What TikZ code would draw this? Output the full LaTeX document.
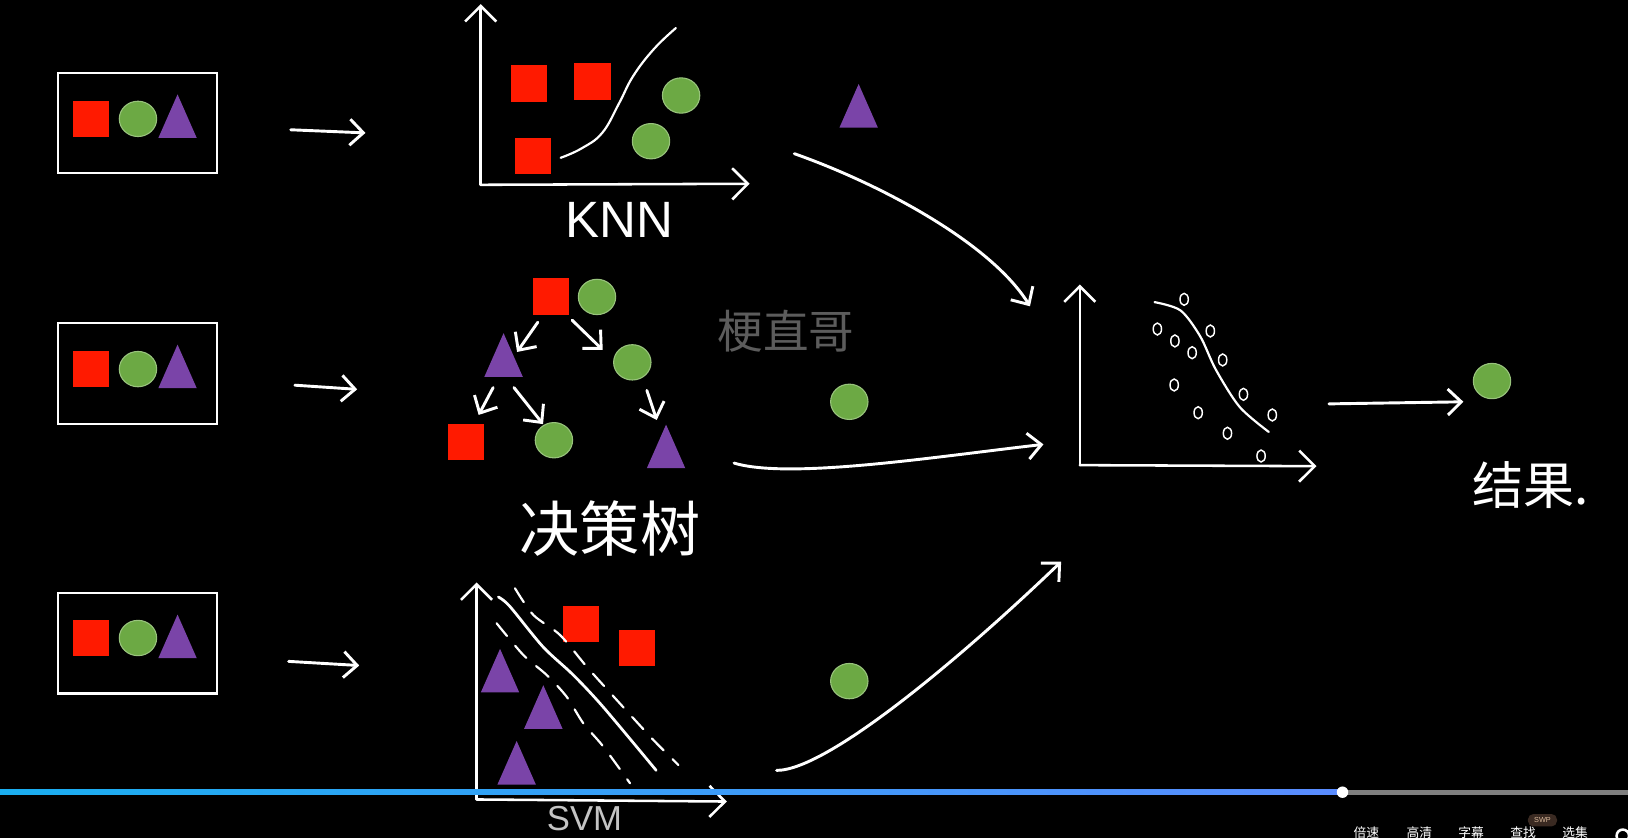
\documentclass[tikz,border=0pt]{standalone}
\usepackage{fontspec}
\setmainfont{Liberation Sans}
\newfontfamily\cjk{Noto Sans CJK SC}
\usepackage{tikz}
\usetikzlibrary{arrows.meta,positioning,shapes.geometric}
\definecolor{EnsRed}{HTML}{FF1A00}
\definecolor{EnsGreen}{HTML}{6CA944}
\definecolor{EnsPurple}{HTML}{7A44A8}
\definecolor{EnsMark}{HTML}{5C5C5C}
\definecolor{EnsFaint}{HTML}{C4C4C4}
\definecolor{EnsBlueL}{HTML}{1AAEF0}
\definecolor{EnsBlueR}{HTML}{5A8CFF}
\definecolor{EnsBar}{HTML}{7F7F7F}
\definecolor{EnsBadge}{HTML}{3A2A22}
\definecolor{EnsBadgeText}{HTML}{D8B89A}
\tikzset{
  sq/.style={fill=EnsRed,minimum size=7mm,inner sep=0pt},
  dot/.style={ellipse,fill=EnsGreen,draw=EnsGreen!70!white,line width=0.6pt,
    minimum width=7.2mm,minimum height=6.8mm,inner sep=0pt},
  tri/.style={isosceles triangle,isosceles triangle stretches,shape border rotate=90,
    fill=EnsPurple,minimum width=7.4mm,minimum height=8.4mm,inner sep=0pt,anchor=apex},
  frame/.style={draw=white,line width=1.2pt,minimum width=30.6mm,minimum height=19.4mm,inner sep=0pt},
  flow/.style={-{Straight Barb[length=2.6mm,width=5mm]},line width=1.6pt,draw=white,line cap=round},
  axis/.style={-{Straight Barb[length=3mm,width=6mm]},line width=1.4pt,draw=white,line cap=round},
  curve/.style={line width=1.2pt,draw=white,line cap=round},
  svmgap/.style={curve,dash pattern=on 9pt off 7pt},
  seed/.style={ellipse,draw=white,line width=0.8pt,minimum width=1.6mm,minimum height=2.3mm,inner sep=0pt},
  hand/.style={text=white,inner sep=0pt},
  ctrl/.style={text=white,font=\cjk\fontsize{7}{8}\selectfont,inner sep=0pt}
}
\begin{document}
\begin{tikzpicture}[x=0.2mm,y=-0.2mm]
  \useasboundingbox (0,0) rectangle (1568,807);
  \fill[black] (0,0) rectangle (1568,807);
  \clip (0,0) rectangle (1568,807);
  % three copies of the data
  \node[frame] (in1) at (132.5,118.5) {};
  \node[sq] (in1sq) at (87.5,114.5) {};
  \node[dot,right=1.8mm of in1sq] (in1dot) {};
  \node[tri] (in1tri) at (171,90) {};
  \node[frame] (in2) at (132.5,359.5) {};
  \node[sq] (in2sq) at (87.5,355.5) {};
  \node[dot,right=1.8mm of in2sq] (in2dot) {};
  \node[tri] (in2tri) at (171,331) {};
  \node[frame] (in3) at (132.5,619.5) {};
  \node[sq] (in3sq) at (87.5,614.5) {};
  \node[dot,right=1.8mm of in3sq] (in3dot) {};
  \node[tri] (in3tri) at (171,591) {};
  \coordinate (in1a) at (280,125); \coordinate (in1b) at (352,128);
  \coordinate (in2a) at (284,371); \coordinate (in2b) at (344,375);
  \coordinate (in3a) at (278,637); \coordinate (in3b) at (346,641);
  \draw[flow] (in1a)--(in1b); \draw[flow] (in2a)--(in2b); \draw[flow] (in3a)--(in3b);

  % KNN
  \coordinate (knnO) at (463,178); \coordinate (knnY) at (463,4); \coordinate (knnX) at (722,177);
  \draw[axis] (knnO)--(knnY); \draw[axis] (knnO)--(knnX);
  \node[sq] (knnA) at (509.5,80.5) {};
  \node[sq] (knnB) at (570.5,78.5) {};
  \node[sq] (knnC) at (513.5,150.5) {};
  \node[dot] (knnD) at (656,92) {};
  \node[dot] (knnE) at (627,136) {};
  \draw[curve] plot[smooth,tension=0.7] coordinates {(540,152) (560,143) (580,128) (596,100) (610,73) (630,47) (651,27)};
  \node[hand,font=\fontsize{28}{30}\selectfont] (knn) at (597,212) {KNN};
  \node[tri] (knnout) at (827,80) {};

  % decision tree
  \node[sq] (root) at (530.5,285.5) {};
  \node[dot] (rootdot) at (575,286) {};
  \node[tri] (dtA) at (485,320) {};
  \node[dot] (dtB) at (609,349) {};
  \node[sq] (dtC) at (449,426) {};
  \node[dot] (dtD) at (533.5,424) {};
  \node[tri] (dtE) at (641.5,408) {};
  \draw[flow] ([xshift=-2.5mm,yshift=-1.4mm]root.south)--([xshift=2.6mm,yshift=-3.8mm]dtA.apex);
  \draw[flow] ([xshift=4.1mm,yshift=-1mm]root.south)--([xshift=-2mm,yshift=2.4mm]dtB.west);
  \draw[flow] ([xshift=-2mm,yshift=-2mm]dtA.lower side)--([xshift=2.4mm,yshift=1.7mm]dtC.north);
  \draw[flow] ([xshift=2mm,yshift=-2mm]dtA.lower side)--([xshift=-2.1mm,yshift=-0.4mm]dtD.north);
  \draw[flow] ([xshift=2.8mm,yshift=-1.9mm]dtB.south)--([xshift=-1.8mm,yshift=0.7mm]dtE.apex);
  \node[hand,font=\cjk\fontsize{33}{36}\selectfont] (dtname) at (587.5,509) {决策树};
  \node[text=EnsMark,font=\cjk\fontsize{25}{28}\selectfont,inner sep=0pt] (mark) at (757,319) {梗直哥};
  \node[dot] (dtout) at (818,387) {};

  % SVM
  \coordinate (svmO) at (459,770); \coordinate (svmY) at (459,561); \coordinate (svmX) at (700,772);
  \draw[axis] (svmO)--(svmY); \draw[axis] (svmO)--(svmX);
  \node[tri] (svmA) at (481.6,624) {};
  \node[tri] (svmB) at (523.3,659) {};
  \node[tri] (svmC) at (497.6,712.7) {};
  \node[sq] (svmD) at (559.5,601) {};
  \node[sq] (svmE) at (613.6,624) {};
  \draw[curve,line width=1.5pt] plot[smooth] coordinates {(480,575) (491,584) (523,623) (552,650) (581,681) (632,742)};
  \draw[svmgap] plot[smooth] coordinates {(496,566.6) (513.7,592.3) (539.4,611.6) (565.1,642.1) (594,674.2) (629.3,712.7) (653.4,736.8)};
  \draw[svmgap] plot[smooth] coordinates {(478.3,600.3) (504,630.8) (526.5,650.1) (545.7,671) (561.8,696.6) (581.1,719.1) (606.8,754.4)};
  \node[text=EnsFaint,font=\fontsize{19}{21}\selectfont,inner sep=0pt] (svm) at (563,788) {SVM};
  \node[dot] (svmout) at (818,656) {};

  % combine
  \coordinate (mixO) at (1040,448); \coordinate (mixY) at (1040,274); \coordinate (mixX) at (1268,449);
  \draw[axis] (mixO)--(mixY); \draw[axis] (mixO)--(mixX);
  \draw[curve] plot[smooth] coordinates {(1112,291) (1137,299) (1156,324) (1171,356) (1194,392) (1222,416)};
  \node[seed] (s1) at (1140.5,288.3) {}; \node[seed] (s2) at (1114.7,316.9) {};
  \node[seed] (s3) at (1131.6,328.4) {}; \node[seed] (s4) at (1165.7,318.8) {};
  \node[seed] (s5) at (1148.2,339.7) {}; \node[seed] (s6) at (1177.6,346.7) {};
  \node[seed] (s7) at (1130.9,370.8) {}; \node[seed] (s8) at (1197.6,379.8) {};
  \node[seed] (s9) at (1154,397.5) {}; \node[seed] (s10) at (1225.4,399.7) {};
  \node[seed] (s11) at (1182.2,417.3) {}; \node[seed] (s12) at (1214.6,439.2) {};
  \coordinate (knnR) at (765,148); \coordinate (mixL1) at (992,295);
  \coordinate (dtR) at (707,446); \coordinate (mixL2) at (1005,428);
  \coordinate (svmR) at (748,742); \coordinate (mixL3) at (1022,541);
  \draw[flow] (knnR) .. controls (850,178) and (955,235) .. (mixL1);
  \draw[flow] (dtR) .. controls (760,462) and (900,440) .. (mixL2);
  \draw[flow] (svmR) .. controls (800,742) and (940,620) .. (mixL3);
  \coordinate (mixR) at (1280,389);
  \node[dot] (final) at (1437,367) {};
  \draw[flow] (mixR)--([xshift=-1.8mm,yshift=-4mm]final.west);
  \node[hand,font=\cjk\fontsize{28}{32}\selectfont] (result) at (1474,467) {结果.};

  % player bar
  \shade[left color=EnsBlueL,right color=EnsBlueR] (0,760.5) rectangle (1293,765.5);
  \fill[EnsBar] (1293,760.5) rectangle (1568,765.5);
  \node[circle,fill=white,minimum size=2.2mm,inner sep=0pt] (knob) at (1293,763) {};
  \node[ctrl] (speed) at (1316,802) {倍速};
  \node[ctrl] (hd) at (1367,802) {高清};
  \node[ctrl] (subs) at (1417,802) {字幕};
  \node[ctrl] (find) at (1467,802) {查找};
  \node[ctrl] (parts) at (1517,802) {选集};
  \node[fill=EnsBadge,rounded corners=3pt,minimum width=5.6mm,minimum height=2.4mm,inner sep=0pt,
    text=EnsBadgeText,font=\fontsize{4}{5}\selectfont] (swp) at (1485.6,790) {SWP};
  \node[circle,draw=white,line width=1.4pt,minimum size=2.4mm,inner sep=0pt] (gear) at (1563,805) {};
\end{tikzpicture}
\end{document}
